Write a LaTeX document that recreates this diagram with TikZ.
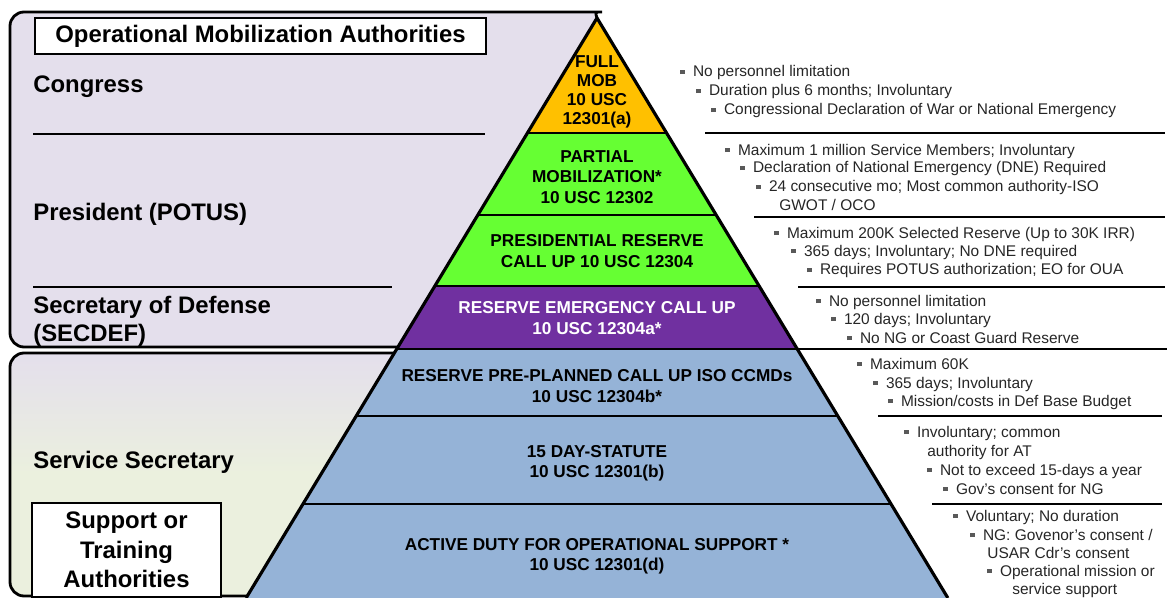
\documentclass[tikz,border=0pt]{standalone}
\usepackage{fontspec}
\setmainfont{Liberation Sans}
\usetikzlibrary{positioning,calc}
\definecolor{lavpanel}{HTML}{E4DFEC}
\definecolor{olivepanel}{HTML}{EBF0DE}
\definecolor{mobgold}{HTML}{FFC000}
\definecolor{mobgreen}{HTML}{66FF33}
\definecolor{mobpurple}{HTML}{7030A0}
\definecolor{mobblue}{HTML}{95B3D7}
\newcommand{\bul}{{\color{black!65}\rule[0.18em]{0.27em}{0.27em}}\hspace{0.55em}}

\begin{document}
\begin{tikzpicture}[
  x=0.02cm, y=-0.02cm,
  panel/.style={draw, line width=1.6pt},
  septhick/.style={line width=1.6pt},
  septhin/.style={line width=0.6pt},
  headbox/.style={draw, line width=1.4pt, fill=white, inner sep=0pt},
  lefttxt/.style={font=\fontsize{13.6}{16}\selectfont\bfseries, inner sep=0pt},
  tier/.style={font=\fontsize{9.8}{11.6}\selectfont\bfseries, align=center, inner sep=0pt},
  note/.style={font=\fontsize{8.8}{10}\selectfont, text=black!85, anchor=base west, inner sep=0pt}
]
\useasboundingbox (0,0) rectangle (1167,598);

\foreach \lv/\yy in {a/18, b/133, c/215, d/286, e/349, f/416, g/504, h/598} {
  \coordinate (l\lv) at ({597-0.605*(\yy-18)},\yy);
  \coordinate (r\lv) at ({597+0.605*(\yy-18)},\yy);
}
\coordinate (lsec) at ({597-0.605*329},347);
\coordinate (lser) at ({597-0.605*335},353);
\coordinate (lbot) at ({597-0.605*578},596);

% authority panels
\filldraw[panel, fill=lavpanel, rounded corners=8pt] (lsec) -- (10,347) -- (10,12) -- (588,12) .. controls (595,12) .. (la);
\filldraw[panel, top color=lavpanel, bottom color=olivepanel, middle color=olivepanel, rounded corners=8pt] (lser) -- (10,353) -- (10,596) -- (lbot);

% pyramid
\fill[mobgold] (la) -- (lb) -- (rb) -- cycle;
\fill[mobgreen] (lb) -- (ld) -- (rd) -- (rb) -- cycle;
\fill[mobpurple] (ld) -- (le) -- (re) -- (rd) -- cycle;
\fill[mobblue] (le) -- (lh) -- (rh) -- (re) -- cycle;
\draw[septhick] (lb) -- (rb);
\draw[septhick] (ld) -- (rd);
\draw[septhin] (lc) -- (rc);
\draw[septhin] (lf) -- (rf);
\draw[septhin] (lg) -- (rg);
\draw[septhick] (le) -- (re) -- (1167,349);
\draw[line width=1.8pt] (lh) -- (la) -- (rh);

% separators
\draw[septhick] (33,134) -- (485,134);
\draw[septhick] (33,287) -- (392,287);
\draw[septhick] (705,133) -- (1165,133);
\draw[septhin] (754,217) -- (1165,217);
\draw[septhick] (798,287) -- (1165,287);
\draw[septhin] (878,416) -- (1162,416);
\draw[septhin] (932,504) -- (1162,504);

\node[headbox, lefttxt, minimum width=9.02cm, minimum height=0.72cm] (title) at (260.5,36) {Operational Mobilization Authorities};
\node[lefttxt, anchor=base west] (congress) at (33,93) {Congress};
\node[lefttxt, anchor=base west] (potus) at (33,220) {President (POTUS)};
\node[lefttxt, anchor=north west, align=left] (secdef) at (33,296) {Secretary of Defense\\(SECDEF)};
\node[lefttxt, anchor=base west] (servsec) at (33,468) {Service Secretary};
\node[headbox, lefttxt, font=\fontsize{13.6}{16.7}\selectfont\bfseries, align=center, minimum width=3.78cm, minimum height=1.88cm] (support) at (126.5,550) {Support or\\Training\\Authorities};

\node[tier, font=\fontsize{9.8}{10.8}\selectfont\bfseries] (fullmob) at (597,92) {FULL\\MOB\\10 USC\\12301(a)};
\node[tier] (partial) at (597,177) {PARTIAL\\MOBILIZATION*\\10 USC 12302};
\node[tier] (presres) at (597,251) {PRESIDENTIAL RESERVE\\CALL UP 10 USC 12304};
\node[tier, text=white] (emerg) at (597,318) {RESERVE EMERGENCY CALL UP\\10 USC 12304a*};
\node[tier] (preplan) at (597,386) {RESERVE PRE-PLANNED CALL UP ISO CCMDs\\10 USC 12304b*};
\node[tier] (statute) at (597,463) {15 DAY-STATUTE\\10 USC 12301(b)};
\node[tier] (ados) at (597,556) {ACTIVE DUTY FOR OPERATIONAL SUPPORT *\\10 USC 12301(d)};

\node[note] (g1a) at (680,77) {\bul No personnel limitation};
\node[note] (g1b) at (696,96) {\bul Duration plus 6 months; Involuntary};
\node[note] (g1c) at (711,115) {\bul Congressional Declaration of War or National Emergency};
\node[note] (g2a) at (725,155) {\bul Maximum 1 million Service Members; Involuntary};
\node[note] (g2b) at (740,173) {\bul Declaration of National Emergency (DNE) Required};
\node[note] (g2c) at (756,192) {\bul 24 consecutive mo; Most common authority-ISO};
\node[note] (g2d) at (779,211) {GWOT / OCO};
\node[note] (g3a) at (774,238) {\bul Maximum 200K Selected Reserve (Up to 30K IRR)};
\node[note] (g3b) at (791,256) {\bul 365 days; Involuntary; No DNE required};
\node[note] (g3c) at (807,275) {\bul Requires POTUS authorization; EO for OUA};
\node[note] (g4a) at (816,306) {\bul No personnel limitation};
\node[note] (g4b) at (831,324) {\bul 120 days; Involuntary};
\node[note] (g4c) at (847,343) {\bul No NG or Coast Guard Reserve};
\node[note] (g5a) at (857,369) {\bul Maximum 60K};
\node[note] (g5b) at (873,388) {\bul 365 days; Involuntary};
\node[note] (g5c) at (888,406) {\bul Mission/costs in Def Base Budget};
\node[note] (g6a) at (904,437) {\bul Involuntary; common};
\node[note] (g6b) at (927,456) {authority for AT};
\node[note] (g6c) at (927,475) {\bul Not to exceed 15-days a year};
\node[note] (g6d) at (943,494) {\bul Gov's consent for NG};
\node[note] (g7a) at (953,521) {\bul Voluntary; No duration};
\node[note] (g7b) at (970,540) {\bul NG: Govenor's consent /};
\node[note] (g7c) at (987,558) {USAR Cdr's consent};
\node[note] (g7d) at (987,576) {\bul Operational mission or};
\node[note] (g7e) at (1012,594) {service support};

\end{tikzpicture}
\end{document}
